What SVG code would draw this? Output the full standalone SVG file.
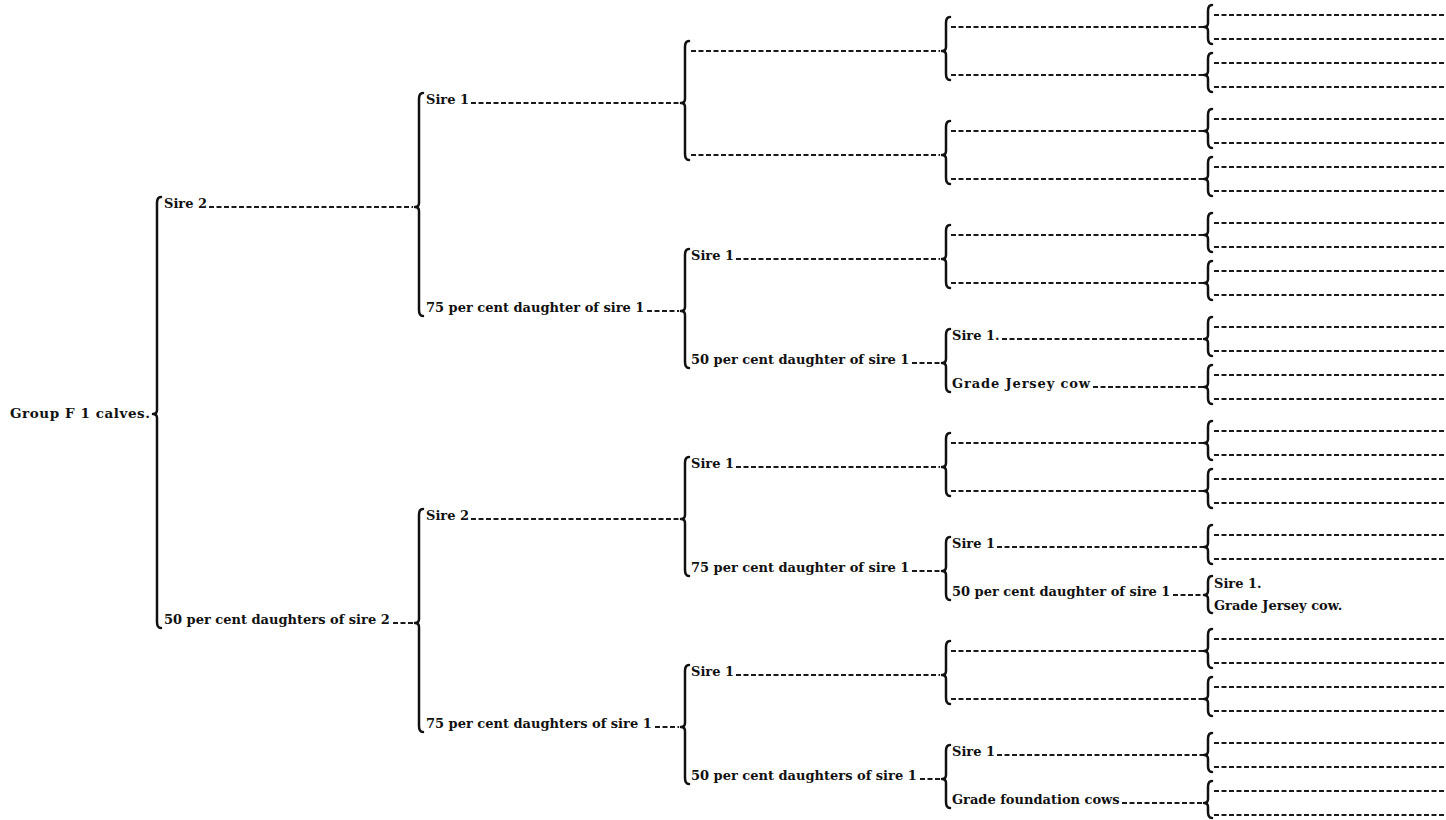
<svg xmlns="http://www.w3.org/2000/svg" width="1446" height="820" viewBox="0 0 1446 820">
<style>
.t{font-family:"DejaVu Serif","Liberation Serif",serif;font-size:13px;font-weight:bold;fill:#111}
.r{font-size:13.5px}
.d{stroke:#1a1a1a;stroke-width:1.9;stroke-dasharray:5 2.5;fill:none}
.b{stroke:#111;stroke-width:2.5;fill:none;stroke-linecap:round;stroke-linejoin:round}
</style>
<rect width="1446" height="820" fill="#fff"/>
<g id="connectors-leaders">
<line class="d" x1="209" y1="207" x2="413" y2="207"/>
<line class="d" x1="393" y1="623" x2="413" y2="623"/>
<line class="d" x1="471" y1="103" x2="679" y2="103"/>
<line class="d" x1="647" y1="311" x2="679" y2="311"/>
<line class="d" x1="471" y1="519" x2="679" y2="519"/>
<line class="d" x1="655" y1="727" x2="679" y2="727"/>
<line class="d" x1="691" y1="51" x2="940" y2="51"/>
<line class="d" x1="691" y1="155" x2="940" y2="155"/>
<line class="d" x1="736" y1="259" x2="940" y2="259"/>
<line class="d" x1="912" y1="363" x2="940" y2="363"/>
<line class="d" x1="736" y1="467" x2="940" y2="467"/>
<line class="d" x1="912" y1="571" x2="940" y2="571"/>
<line class="d" x1="736" y1="675" x2="940" y2="675"/>
<line class="d" x1="920" y1="779" x2="940" y2="779"/>
<line class="d" x1="951" y1="27" x2="1203" y2="27"/>
<line class="d" x1="951" y1="75" x2="1203" y2="75"/>
<line class="d" x1="951" y1="131" x2="1203" y2="131"/>
<line class="d" x1="951" y1="179" x2="1203" y2="179"/>
<line class="d" x1="951" y1="235" x2="1203" y2="235"/>
<line class="d" x1="951" y1="283" x2="1203" y2="283"/>
<line class="d" x1="1002" y1="339" x2="1203" y2="339"/>
<line class="d" x1="1093" y1="387" x2="1203" y2="387"/>
<line class="d" x1="951" y1="443" x2="1203" y2="443"/>
<line class="d" x1="951" y1="491" x2="1203" y2="491"/>
<line class="d" x1="997" y1="547" x2="1203" y2="547"/>
<line class="d" x1="1173" y1="595" x2="1203" y2="595"/>
<line class="d" x1="951" y1="651" x2="1203" y2="651"/>
<line class="d" x1="951" y1="699" x2="1203" y2="699"/>
<line class="d" x1="997" y1="755" x2="1203" y2="755"/>
<line class="d" x1="1122" y1="803" x2="1203" y2="803"/>
<line class="d" x1="1214" y1="15" x2="1446" y2="15"/>
<line class="d" x1="1214" y1="39" x2="1446" y2="39"/>
<line class="d" x1="1214" y1="63" x2="1446" y2="63"/>
<line class="d" x1="1214" y1="87" x2="1446" y2="87"/>
<line class="d" x1="1214" y1="119" x2="1446" y2="119"/>
<line class="d" x1="1214" y1="143" x2="1446" y2="143"/>
<line class="d" x1="1214" y1="167" x2="1446" y2="167"/>
<line class="d" x1="1214" y1="191" x2="1446" y2="191"/>
<line class="d" x1="1214" y1="223" x2="1446" y2="223"/>
<line class="d" x1="1214" y1="247" x2="1446" y2="247"/>
<line class="d" x1="1214" y1="271" x2="1446" y2="271"/>
<line class="d" x1="1214" y1="295" x2="1446" y2="295"/>
<line class="d" x1="1214" y1="327" x2="1446" y2="327"/>
<line class="d" x1="1214" y1="351" x2="1446" y2="351"/>
<line class="d" x1="1214" y1="375" x2="1446" y2="375"/>
<line class="d" x1="1214" y1="399" x2="1446" y2="399"/>
<line class="d" x1="1214" y1="431" x2="1446" y2="431"/>
<line class="d" x1="1214" y1="455" x2="1446" y2="455"/>
<line class="d" x1="1214" y1="479" x2="1446" y2="479"/>
<line class="d" x1="1214" y1="503" x2="1446" y2="503"/>
<line class="d" x1="1214" y1="535" x2="1446" y2="535"/>
<line class="d" x1="1214" y1="559" x2="1446" y2="559"/>
<line class="d" x1="1214" y1="639" x2="1446" y2="639"/>
<line class="d" x1="1214" y1="663" x2="1446" y2="663"/>
<line class="d" x1="1214" y1="687" x2="1446" y2="687"/>
<line class="d" x1="1214" y1="711" x2="1446" y2="711"/>
<line class="d" x1="1214" y1="743" x2="1446" y2="743"/>
<line class="d" x1="1214" y1="767" x2="1446" y2="767"/>
<line class="d" x1="1214" y1="791" x2="1446" y2="791"/>
<line class="d" x1="1214" y1="815" x2="1446" y2="815"/>
</g>
<g id="nodes">
<g id="n-root"><text class="t r" x="10" y="418" textLength="140">Group F 1 calves.</text></g>
<g id="n-sire2"><text class="t" x="164" y="208">Sire 2</text></g>
<g id="n-50d2"><text class="t" x="164" y="624">50 per cent daughters of sire 2</text></g>
<g id="n-a-sire1"><text class="t" x="426" y="104">Sire 1</text></g>
<g id="n-a-75d1"><text class="t" x="426" y="312">75 per cent daughter of sire 1</text></g>
<g id="n-b-sire2"><text class="t" x="426" y="520">Sire 2</text></g>
<g id="n-b-75d1"><text class="t" x="426" y="728">75 per cent daughters of sire 1</text></g>
<g id="n-c-sire1"><text class="t" x="691" y="260">Sire 1</text></g>
<g id="n-c-50d1"><text class="t" x="691" y="364">50 per cent daughter of sire 1</text></g>
<g id="n-d-sire1"><text class="t" x="691" y="468">Sire 1</text></g>
<g id="n-d-75d1"><text class="t" x="691" y="572">75 per cent daughter of sire 1</text></g>
<g id="n-e-sire1"><text class="t" x="691" y="676">Sire 1</text></g>
<g id="n-e-50d1"><text class="t" x="691" y="780">50 per cent daughters of sire 1</text></g>
<g id="n-f-sire1"><text class="t" x="952" y="340">Sire 1.</text></g>
<g id="n-f-jersey"><text class="t" x="952" y="388" textLength="138">Grade Jersey cow</text></g>
<g id="n-g-sire1"><text class="t" x="952" y="548">Sire 1</text></g>
<g id="n-g-50d1"><text class="t" x="952" y="596">50 per cent daughter of sire 1</text></g>
<g id="n-h-sire1"><text class="t" x="952" y="756">Sire 1</text></g>
<g id="n-h-found"><text class="t" x="952" y="804">Grade foundation cows</text></g>
<g id="n-i-sire1"><text class="t" x="1214" y="588">Sire 1.</text></g>
<g id="n-i-jersey"><text class="t" x="1214" y="610">Grade Jersey cow.</text></g>
</g>
<g id="connectors-braces">
<path class="b" d="M161,197 C158,197 157,199 157,203 L157,410 C157,412.5 155.5,414 153,414 C155.5,414 157,415.5 157,418 L157,622 C157,626 158,628 161,628"/>
<path class="b" d="M423,93 C420,93 419,95 419,99 L419,203 C419,205.5 417.5,207 415,207 C417.5,207 419,208.5 419,211 L419,310 C419,314 420,316 423,316"/>
<path class="b" d="M423,509 C420,509 419,511 419,515 L419,619 C419,621.5 417.5,623 415,623 C417.5,623 419,624.5 419,627 L419,726 C419,730 420,732 423,732"/>
<path class="b" d="M689,41 C686,41 685,43 685,47 L685,99 C685,101.5 683.5,103 681,103 C683.5,103 685,104.5 685,107 L685,154 C685,158 686,160 689,160"/>
<path class="b" d="M689,249 C686,249 685,251 685,255 L685,307 C685,309.5 683.5,311 681,311 C683.5,311 685,312.5 685,315 L685,362 C685,366 686,368 689,368"/>
<path class="b" d="M689,457 C686,457 685,459 685,463 L685,515 C685,517.5 683.5,519 681,519 C683.5,519 685,520.5 685,523 L685,570 C685,574 686,576 689,576"/>
<path class="b" d="M689,665 C686,665 685,667 685,671 L685,723 C685,725.5 683.5,727 681,727 C683.5,727 685,728.5 685,731 L685,778 C685,782 686,784 689,784"/>
<path class="b" d="M950,17 C947,17 946,19 946,23 L946,47 C946,49.5 944.5,51 942,51 C944.5,51 946,52.5 946,55 L946,74 C946,78 947,80 950,80"/>
<path class="b" d="M950,121 C947,121 946,123 946,127 L946,151 C946,153.5 944.5,155 942,155 C944.5,155 946,156.5 946,159 L946,178 C946,182 947,184 950,184"/>
<path class="b" d="M950,225 C947,225 946,227 946,231 L946,255 C946,257.5 944.5,259 942,259 C944.5,259 946,260.5 946,263 L946,282 C946,286 947,288 950,288"/>
<path class="b" d="M950,329 C947,329 946,331 946,335 L946,359 C946,361.5 944.5,363 942,363 C944.5,363 946,364.5 946,367 L946,386 C946,390 947,392 950,392"/>
<path class="b" d="M950,433 C947,433 946,435 946,439 L946,463 C946,465.5 944.5,467 942,467 C944.5,467 946,468.5 946,471 L946,490 C946,494 947,496 950,496"/>
<path class="b" d="M950,537 C947,537 946,539 946,543 L946,567 C946,569.5 944.5,571 942,571 C944.5,571 946,572.5 946,575 L946,594 C946,598 947,600 950,600"/>
<path class="b" d="M950,641 C947,641 946,643 946,647 L946,671 C946,673.5 944.5,675 942,675 C944.5,675 946,676.5 946,679 L946,698 C946,702 947,704 950,704"/>
<path class="b" d="M950,745 C947,745 946,747 946,751 L946,775 C946,777.5 944.5,779 942,779 C944.5,779 946,780.5 946,783 L946,802 C946,806 947,808 950,808"/>
<path class="b" d="M1212,5 C1209,5 1208,7 1208,11 L1208,23 C1208,25.5 1206.5,27 1204,27 C1206.5,27 1208,28.5 1208,31 L1208,38 C1208,42 1209,44 1212,44"/>
<path class="b" d="M1212,53 C1209,53 1208,55 1208,59 L1208,71 C1208,73.5 1206.5,75 1204,75 C1206.5,75 1208,76.5 1208,79 L1208,86 C1208,90 1209,92 1212,92"/>
<path class="b" d="M1212,109 C1209,109 1208,111 1208,115 L1208,127 C1208,129.5 1206.5,131 1204,131 C1206.5,131 1208,132.5 1208,135 L1208,142 C1208,146 1209,148 1212,148"/>
<path class="b" d="M1212,157 C1209,157 1208,159 1208,163 L1208,175 C1208,177.5 1206.5,179 1204,179 C1206.5,179 1208,180.5 1208,183 L1208,190 C1208,194 1209,196 1212,196"/>
<path class="b" d="M1212,213 C1209,213 1208,215 1208,219 L1208,231 C1208,233.5 1206.5,235 1204,235 C1206.5,235 1208,236.5 1208,239 L1208,246 C1208,250 1209,252 1212,252"/>
<path class="b" d="M1212,261 C1209,261 1208,263 1208,267 L1208,279 C1208,281.5 1206.5,283 1204,283 C1206.5,283 1208,284.5 1208,287 L1208,294 C1208,298 1209,300 1212,300"/>
<path class="b" d="M1212,317 C1209,317 1208,319 1208,323 L1208,335 C1208,337.5 1206.5,339 1204,339 C1206.5,339 1208,340.5 1208,343 L1208,350 C1208,354 1209,356 1212,356"/>
<path class="b" d="M1212,365 C1209,365 1208,367 1208,371 L1208,383 C1208,385.5 1206.5,387 1204,387 C1206.5,387 1208,388.5 1208,391 L1208,398 C1208,402 1209,404 1212,404"/>
<path class="b" d="M1212,421 C1209,421 1208,423 1208,427 L1208,439 C1208,441.5 1206.5,443 1204,443 C1206.5,443 1208,444.5 1208,447 L1208,454 C1208,458 1209,460 1212,460"/>
<path class="b" d="M1212,469 C1209,469 1208,471 1208,475 L1208,487 C1208,489.5 1206.5,491 1204,491 C1206.5,491 1208,492.5 1208,495 L1208,502 C1208,506 1209,508 1212,508"/>
<path class="b" d="M1212,525 C1209,525 1208,527 1208,531 L1208,543 C1208,545.5 1206.5,547 1204,547 C1206.5,547 1208,548.5 1208,551 L1208,558 C1208,562 1209,564 1212,564"/>
<path class="b" d="M1212,576 C1209,576 1208,578 1208,582 L1208,591 C1208,593.5 1206.5,595 1204,595 C1206.5,595 1208,596.5 1208,599 L1208,607 C1208,611 1209,613 1212,613"/>
<path class="b" d="M1212,629 C1209,629 1208,631 1208,635 L1208,647 C1208,649.5 1206.5,651 1204,651 C1206.5,651 1208,652.5 1208,655 L1208,662 C1208,666 1209,668 1212,668"/>
<path class="b" d="M1212,677 C1209,677 1208,679 1208,683 L1208,695 C1208,697.5 1206.5,699 1204,699 C1206.5,699 1208,700.5 1208,703 L1208,710 C1208,714 1209,716 1212,716"/>
<path class="b" d="M1212,733 C1209,733 1208,735 1208,739 L1208,751 C1208,753.5 1206.5,755 1204,755 C1206.5,755 1208,756.5 1208,759 L1208,766 C1208,770 1209,772 1212,772"/>
<path class="b" d="M1212,781 C1209,781 1208,783 1208,787 L1208,799 C1208,801.5 1206.5,803 1204,803 C1206.5,803 1208,804.5 1208,807 L1208,812 C1208,816 1209,818 1212,818"/>
</g>
</svg>
